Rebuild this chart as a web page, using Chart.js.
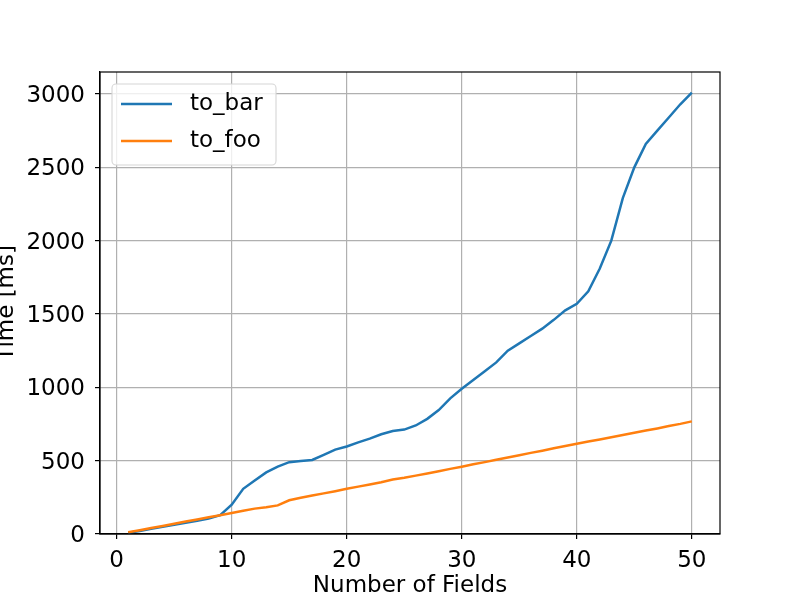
<!DOCTYPE html>
<html>
<head>
<meta charset="utf-8">
<script src="https://cdn.jsdelivr.net/npm/chart.js@4"></script>
<style>
  html, body { margin: 0; padding: 0; background: #fff; }
  #wrap { width: 800px; height: 600px; position: relative; }
</style>
</head>
<body>
<div id="wrap"><canvas id="chart" width="800" height="600"></canvas></div>
<script>
// Data

const fields = [
  1, 2, 3, 4, 5, 6, 7, 8, 9, 10,
  11, 12, 13, 14, 15, 16, 17, 18, 19, 20,
  21, 22, 23, 24, 25, 26, 27, 28, 29, 30,
  31, 32, 33, 34, 35, 36, 37, 38, 39, 40,
  41, 42, 43, 44, 45, 46, 47, 48, 49, 50
];

const toBar = [
  8, 21, 35, 49, 63, 77, 91, 106, 128, 200,
  308, 365, 420, 460, 490, 498, 505, 540, 575, 597,
  625, 650, 680, 702, 712, 740, 785, 845, 925, 990,
  1050, 1110, 1170, 1250, 1300, 1350, 1400, 1460, 1525, 1570,
  1655, 1810, 2000, 2290, 2500, 2660, 2750, 2840, 2930, 3010
];

const toFoo = [
  12, 26, 41, 55, 70, 85, 99, 114, 128, 143,
  158, 173, 182, 195, 230, 247, 262, 277, 292, 308,
  323, 338, 353, 372, 383, 398, 413, 428, 444, 459,
  475, 490, 506, 522, 537, 553, 568, 584, 600, 615,
  630, 645, 660, 675, 690, 705, 720, 736, 751, 768
];

const seriesNames = ['to_bar', 'to_foo'];
const xTicks = [0, 10, 20, 30, 40, 50];
const yTicks = [0, 500, 1000, 1500, 2000, 2500, 3000];

// Style

const FONT = 'DejaVu Sans';
const FONT_SIZE = 23;
const BLUE = '#1f77b4';
const ORANGE = '#ff7f0e';
const GRID = '#b0b0b0';

// matplotlib-like top/right spines
const framePlugin = {
  id: 'frame',
  afterDraw(chart) {
    const { ctx, chartArea: a } = chart;
    ctx.save();
    ctx.strokeStyle = '#000';
    ctx.lineWidth = 1.2;
    ctx.strokeRect(a.left, a.top, a.right - a.left, a.bottom - a.top);
    ctx.restore();
  }
};

// legend box in the upper-left corner of the axes
const legendPlugin = {
  id: 'mplLegend',
  afterDraw(chart) {
    const { ctx, chartArea: a } = chart;
    const x = a.left + 12, y = a.top + 12, w = 164, h = 81, r = 4;
    ctx.save();
    ctx.fillStyle = 'rgba(255,255,255,0.8)';
    ctx.strokeStyle = '#d6d6d6';
    ctx.lineWidth = 1.1;
    ctx.beginPath();
    ctx.roundRect(x, y, w, h, r);
    ctx.fill();
    ctx.stroke();

    chart.data.datasets.forEach((ds, i) => {
      const ly = y + 20 + i * 37;
      ctx.strokeStyle = ds.borderColor;
      ctx.lineWidth = 2.5;
      ctx.beginPath();
      ctx.moveTo(x + 9, ly);
      ctx.lineTo(x + 60, ly);
      ctx.stroke();
      ctx.fillStyle = '#000';
      ctx.font = `${FONT_SIZE}px "${FONT}"`;
      ctx.textBaseline = 'middle';
      ctx.textAlign = 'left';
      ctx.fillText(ds.label, x + 78, ly);
    });
    ctx.restore();
  }
};

const chart = new Chart(document.getElementById('chart'), {
  type: 'line',
  data: {
    datasets: [
      {
        label: seriesNames[0],
        data: fields.map((f, i) => ({ x: f, y: toBar[i] })),
        borderColor: BLUE,
        backgroundColor: BLUE,
        borderWidth: 2.5,
        pointRadius: 0,
        tension: 0,
        order: 1
      },
      {
        label: seriesNames[1],
        data: fields.map((f, i) => ({ x: f, y: toFoo[i] })),
        borderColor: ORANGE,
        backgroundColor: ORANGE,
        borderWidth: 2.5,
        pointRadius: 0,
        tension: 0,
        order: 0
      }
    ]
  },
  options: {
    responsive: false,
    animation: false,
    events: [],
    layout: { padding: { left: 0, right: 80, top: 72, bottom: 0 } },
    plugins: {
      legend: { display: false },
      tooltip: { enabled: false }
    },
    scales: {
      x: {
        type: 'linear',
        min: -1.45,
        max: 52.45,
        afterBuildTicks: s => { s.ticks = xTicks.map(v => ({ value: v })); },
        afterFit: s => { s.height = 66; },
        grid: { color: GRID, lineWidth: 1.2, tickColor: '#000', tickLength: 5, tickWidth: 1.2 },
        border: { display: true, color: '#000', width: 1.2 },
        ticks: { color: '#000', font: { family: FONT, size: FONT_SIZE }, padding: 8, maxRotation: 0,
                 callback: v => String(v) },
        title: {
          display: true,
          text: 'Number of Fields',
          color: '#000',
          font: { family: FONT, size: FONT_SIZE, lineHeight: 1.2 },
          padding: { top: 0, bottom: 0 }
        }
      },
      y: {
        min: 0,
        max: 3150,
        afterBuildTicks: s => { s.ticks = yTicks.map(v => ({ value: v })); },
        afterFit: s => { s.width = 100; },
        grid: { color: GRID, lineWidth: 1.2, tickColor: '#000', tickLength: 5, tickWidth: 1.2 },
        border: { display: true, color: '#000', width: 1.2 },
        ticks: { color: '#000', font: { family: FONT, size: FONT_SIZE }, padding: 10, labelOffset: 2,
                 callback: v => String(v) },
        title: {
          display: true,
          text: 'Time [ms]',
          color: '#000',
          font: { family: FONT, size: FONT_SIZE, lineHeight: 0.6 },
          padding: 0
        }
      }
    }
  },
  plugins: [framePlugin, legendPlugin]
});
</script>
</body>
</html>
